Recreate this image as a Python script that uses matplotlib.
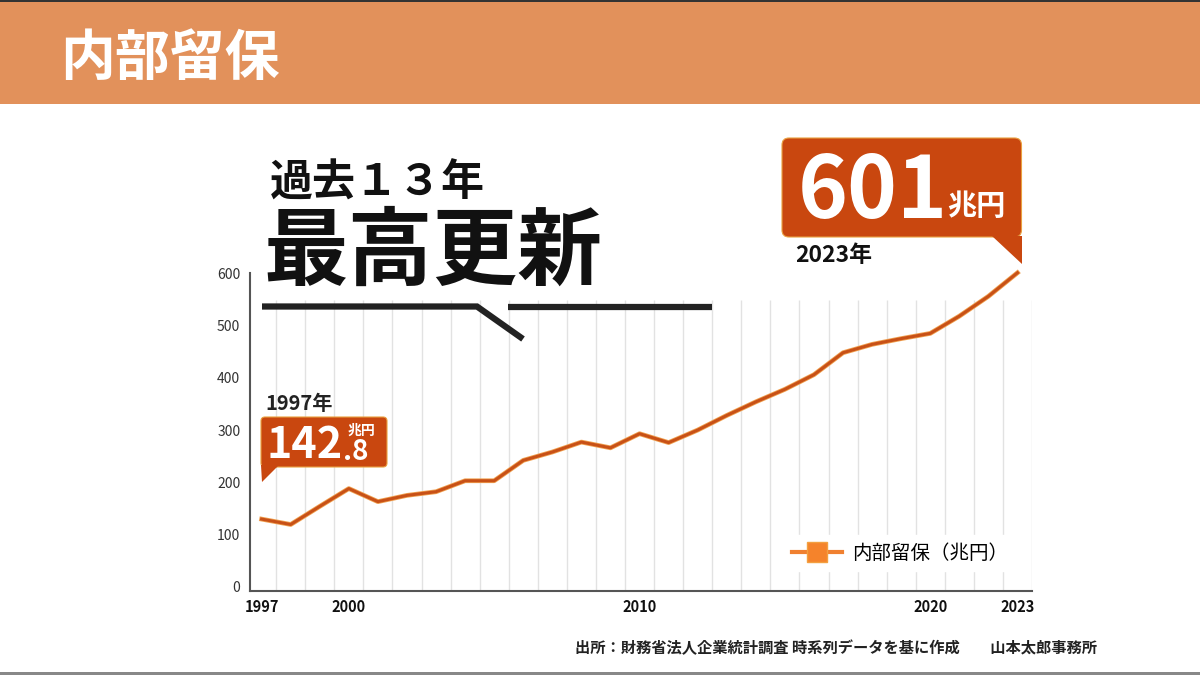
import matplotlib
matplotlib.use('Agg')
import matplotlib.pyplot as plt
import numpy as np
from matplotlib.patches import Polygon, FancyBboxPatch, Rectangle
from matplotlib.lines import Line2D

plt.rcParams['font.family'] = ['Noto Sans CJK JP', 'DejaVu Sans']

# 内部留保 (兆円)
years = list(range(1997, 2024))
values = [129.6, 119.3, 154, 188, 163, 175, 182, 203, 203, 242,
          258, 277, 266, 293, 276, 300, 328, 354, 378, 406,
          448, 464, 475, 485, 518, 556, 601]
xtick_years = [1997, 2000, 2010, 2020, 2023]
ytick_vals = [0, 100, 200, 300, 400, 500, 600]

header_col = '#E2915B'
box_col = '#C9470F'
line_col = '#C85117'

fig = plt.figure(figsize=(12, 6.75), dpi=100)
fig.patch.set_facecolor('white')

# chart axes (pixel layout: y-axis at x=250, x-axis at y=591)
ax = fig.add_axes([250/1200, 1-591/675, (1032-250)/1200, (591-273.3)/675])
ax.set_xlim(1996.6, 2023.5)
ax.set_ylim(-8, 600)
ax.vlines(np.arange(1997.5, 2024), -8, 549, color='#E2E2E2', lw=1, zorder=1)
ax.plot(years, values, color='#F0A050', lw=3.4, clip_on=False, zorder=2)
ax.plot(years, values, color=line_col, lw=2.2, clip_on=False, zorder=3)

ax.set_xticks(xtick_years)
ax.set_xticklabels([str(y) for y in xtick_years], fontsize=10.5, fontweight='bold', color='#111')
ax.set_yticks(ytick_vals)
ax.set_yticklabels([str(v) for v in ytick_vals], fontsize=10, color='#333')
ax.tick_params(length=0)
ax.tick_params(axis='y', pad=7)
ax.tick_params(axis='x', pad=6)
for s in ['top', 'right']:
    ax.spines[s].set_visible(False)
for s in ['left', 'bottom']:
    ax.spines[s].set_color('#555')
    ax.spines[s].set_linewidth(1.5)

handle = Line2D([], [], color='#F08030', lw=3, marker='s', markersize=14,
                markerfacecolor='#F5832B', markeredgecolor='#F3A040')
fig.legend([handle], ['内部留保（兆円）'], loc='center',
           bbox_to_anchor=(900/1200, 1-553/675), frameon=True, fontsize=14,
           handlelength=2.6, facecolor='white', edgecolor='white', framealpha=1,
           borderpad=0.4, handletextpad=0.5)

# overlay in pixel coordinates for header and annotations
ov = fig.add_axes([0, 0, 1, 1], zorder=6)
ov.set_xlim(0, 1200)
ov.set_ylim(675, 0)
ov.axis('off')
ov.patch.set_alpha(0)

ov.add_patch(Rectangle((0, 0), 1200, 104, color=header_col, lw=0))
ov.add_patch(Rectangle((0, 0), 1200, 2, color='#333', lw=0))
ov.add_patch(Rectangle((0, 672), 1200, 3, color='#888', lw=0))
ov.text(60, 58, '内部留保', color='white', fontsize=39.5, fontweight='bold',
        ha='left', va='center')

ov.text(270, 183, '過去１３年', fontsize=31, fontweight='bold', color='#111',
        ha='left', va='center')
ov.text(263, 252, '最高更新', fontsize=61, fontweight='bold', color='#111',
        ha='left', va='center')
ov.plot([262, 477, 523], [306.5, 306.5, 339], color='#222', lw=4.5,
        solid_capstyle='butt', solid_joinstyle='miter')
ov.plot([508, 712], [306.5, 306.5], color='#222', lw=4.5, solid_capstyle='butt')

# 601 callout
ov.add_patch(FancyBboxPatch((782, 138), 239.5, 99, boxstyle='round,pad=0,rounding_size=7',
                            fc=box_col, ec='#E9A040', lw=0.8))
ov.add_patch(Polygon([(992, 236), (1021.5, 236), (1021.5, 264)], closed=True,
                     fc=box_col, ec='none'))
ov.text(798, 218, '601', color='white', fontsize=61, fontweight='bold',
        ha='left', va='baseline')
ov.text(947, 206, '兆円', color='white', fontsize=21, fontweight='bold',
        ha='left', va='center')
ov.text(795, 256, '2023年', color='#111', fontsize=16.5, fontweight='bold',
        ha='left', va='center')

# 142.8 callout
ov.add_patch(FancyBboxPatch((261, 417), 126, 50, boxstyle='round,pad=0,rounding_size=4',
                            fc=box_col, ec='#E9A040', lw=0.8))
ov.add_patch(Polygon([(261, 465), (279, 465), (262, 482)], closed=True,
                     fc=box_col, ec='none'))
ov.text(267, 458, '142', color='white', fontsize=31, fontweight='bold',
        ha='left', va='baseline')
ov.text(343, 460, '.8', color='white', fontsize=20, fontweight='bold',
        ha='left', va='baseline')
ov.text(348, 431, '兆円', color='white', fontsize=10, fontweight='bold',
        ha='left', va='center')
ov.text(265, 403, '1997年', color='#222', fontsize=14.5, fontweight='bold',
        ha='left', va='center')

ov.text(1097, 648, '出所：財務省法人企業統計調査 時系列データを基に作成　　山本太郎事務所',
        ha='right', va='center', fontsize=11, fontweight='bold', color='#222')

fig.savefig('out.png', dpi=100)
